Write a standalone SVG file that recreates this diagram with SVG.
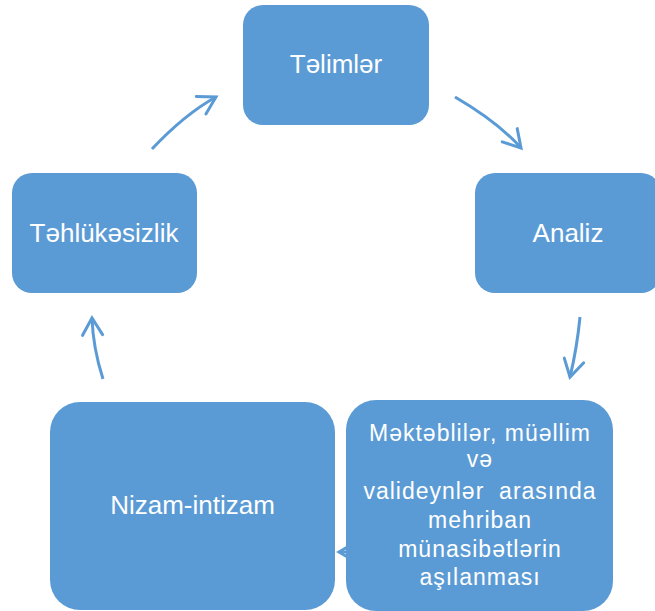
<svg xmlns="http://www.w3.org/2000/svg" width="655" height="611" viewBox="0 0 655 611">
  <style>
    .box { fill: #5B9BD5; }
    .big { font-family: "Liberation Sans", Arial, sans-serif; font-size: 26px; fill: #FFFFFF; text-anchor: middle; }
    .small { font-family: "Liberation Sans", Arial, sans-serif; font-size: 23px; letter-spacing: 1px; fill: #FFFFFF; text-anchor: middle; white-space: pre; }
    .conn { fill: none; stroke: #5B9BD5; stroke-width: 3; marker-end: url(#chev); }
  </style>
  <defs>
    <marker id="chev" markerUnits="userSpaceOnUse" markerWidth="30" markerHeight="30" viewBox="-20 -15 25 30" refX="0" refY="0" orient="auto">
      <path d="M-17,-10 L0,0 L-17,10" fill="none" stroke="#5B9BD5" stroke-width="3" stroke-linecap="round" stroke-linejoin="miter"/>
    </marker>
  </defs>
  <rect width="655" height="611" fill="#FFFFFF"/>
  <g id="connectors">
    <path class="conn" d="M152,149 Q185,114 216,97"/>
    <path class="conn" d="M455,97 Q498,122 521,148"/>
    <path class="conn" d="M580,317 Q577,348 570,377"/>
    <path class="conn" d="M103,379 Q93,348 92,318"/>
    <path class="conn" d="M380,552 L339,552"/>
  </g>
  <g id="node-telimler">
    <rect class="box" x="243" y="5" width="186" height="120" rx="20"/>
    <text class="big" x="336" y="73">Təlimlər</text>
  </g>
  <g id="node-analiz">
    <rect class="box" x="475" y="173" width="186" height="120" rx="20"/>
    <text class="big" x="568" y="242">Analiz</text>
  </g>
  <g id="node-tehlukesizlik">
    <rect class="box" x="12" y="173" width="185" height="120" rx="20"/>
    <text class="big" x="104" y="242">Təhlükəsizlik</text>
  </g>
  <g id="node-nizam">
    <rect class="box" x="50" y="402" width="285" height="208" rx="30"/>
    <text class="big" x="192.5" y="514">Nizam-intizam</text>
  </g>
  <g id="node-munasibet">
    <rect class="box" x="346" y="400" width="267" height="211" rx="30"/>
    <text class="small" x="480" y="441">Məktəblilər, müəllim</text>
    <text class="small" x="480" y="467">və</text>
    <text class="small" x="480" y="499">valideynlər  arasında</text>
    <text class="small" x="480" y="528">mehriban</text>
    <text class="small" x="480" y="557">münasibətlərin</text>
    <text class="small" x="480" y="585">aşılanması</text>
  </g>
</svg>
